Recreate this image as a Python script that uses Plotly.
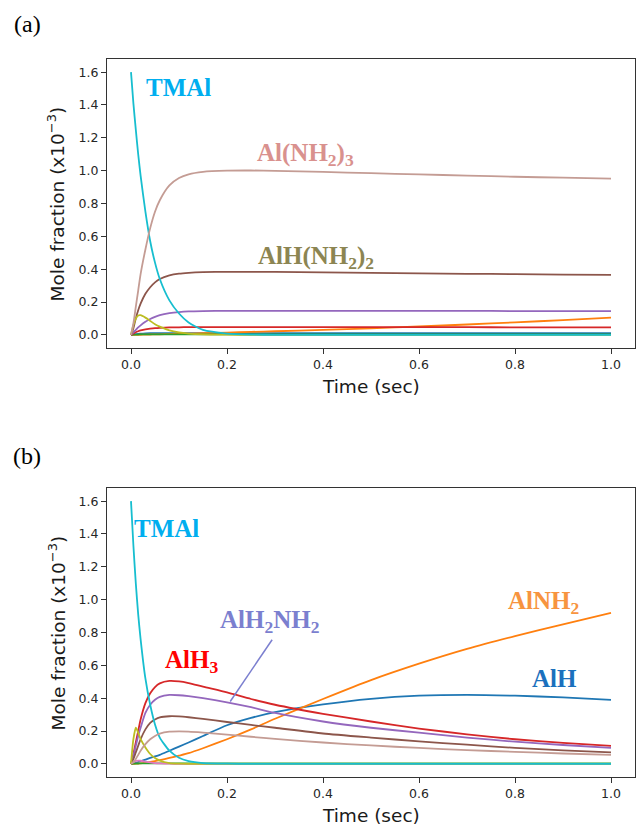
import plotly.graph_objects as go

# ---------------- data ----------------
time = [0, 0.005, 0.01, 0.015, 0.02, 0.03, 0.04, 0.05, 0.06, 0.08, 0.1, 0.12,
        0.15, 0.2, 0.25, 0.3, 0.4, 0.5, 0.6, 0.7, 0.8, 0.9, 1.0]

# panel (a)
a_blue   = [0, 0.002, 0.004, 0.006, 0.007, 0.009, 0.01, 0.01, 0.01, 0.01, 0.01, 0.01,
            0.01, 0.01, 0.01, 0.01, 0.01, 0.01, 0.01, 0.01, 0.01, 0.01, 0.01]
a_orange = [0, 0.0001, 0.0003, 0.0005, 0.0008, 0.0015, 0.0022, 0.003, 0.0035, 0.005, 0.0065, 0.008,
            0.010, 0.014, 0.018, 0.022, 0.030, 0.040, 0.051, 0.063, 0.076, 0.090, 0.105]
a_green  = [0, 0.001, 0.002, 0.002, 0.003, 0.003, 0.003, 0.003, 0.003, 0.003, 0.003, 0.003,
            0.003, 0.003, 0.003, 0.003, 0.003, 0.003, 0.003, 0.003, 0.003, 0.003, 0.003]
a_red    = [0, 0.008, 0.016, 0.022, 0.027, 0.034, 0.038, 0.041, 0.043, 0.045, 0.046, 0.047,
            0.047, 0.047, 0.047, 0.047, 0.047, 0.047, 0.047, 0.047, 0.046, 0.046, 0.046]
a_purple = [0, 0.015, 0.03, 0.045, 0.058, 0.08, 0.097, 0.11, 0.12, 0.132, 0.139, 0.143,
            0.145, 0.146, 0.146, 0.146, 0.146, 0.146, 0.146, 0.146, 0.145, 0.145, 0.145]
a_brown  = [0, 0.04, 0.10, 0.15, 0.19, 0.25, 0.29, 0.32, 0.34, 0.362, 0.373, 0.378,
            0.382, 0.384, 0.384, 0.383, 0.381, 0.378, 0.375, 0.372, 0.370, 0.367, 0.365]
a_olive  = [0, 0.06, 0.10, 0.118, 0.12, 0.105, 0.085, 0.065, 0.05, 0.028, 0.015, 0.008,
            0.003, 0.001, 0, 0, 0, 0, 0, 0, 0, 0, 0]
a_tmal   = [1.6, 1.41, 1.25, 1.10, 0.97, 0.75, 0.57, 0.44, 0.34, 0.21, 0.13, 0.075,
            0.03, 0.008, 0.002, 0, 0, 0, 0, 0, 0, 0, 0]
a_alnh3  = [0, 0.07, 0.17, 0.27, 0.37, 0.52, 0.65, 0.75, 0.82, 0.91, 0.955, 0.978,
            0.993, 1.0, 1.001, 0.999, 0.992, 0.985, 0.977, 0.970, 0.963, 0.957, 0.951]

# panel (b)
b_blue   = [0, 0.003, 0.007, 0.011, 0.016, 0.026, 0.036, 0.045, 0.055, 0.08, 0.105, 0.13,
            0.17, 0.235, 0.28, 0.315, 0.362, 0.396, 0.415, 0.42, 0.415, 0.405, 0.39]
b_orange = [0, 0, 0.001, 0.002, 0.003, 0.007, 0.012, 0.017, 0.023, 0.036, 0.05, 0.065,
            0.095, 0.15, 0.21, 0.275, 0.395, 0.51, 0.61, 0.70, 0.778, 0.85, 0.92]
b_green  = [0, 0.001, 0.002, 0.002, 0.003, 0.003, 0.003, 0.003, 0.003, 0.003, 0.003, 0.003,
            0.003, 0.003, 0.003, 0.003, 0.003, 0.003, 0.003, 0.003, 0.003, 0.003, 0.003]
b_red    = [0, 0.06, 0.13, 0.20, 0.27, 0.37, 0.43, 0.468, 0.49, 0.505, 0.502, 0.492,
            0.47, 0.435, 0.395, 0.36, 0.305, 0.258, 0.215, 0.18, 0.15, 0.128, 0.11]
b_purple = [0, 0.05, 0.11, 0.17, 0.22, 0.31, 0.36, 0.39, 0.408, 0.42, 0.418, 0.412,
            0.40, 0.375, 0.345, 0.31, 0.258, 0.22, 0.19, 0.16, 0.135, 0.115, 0.097]
b_brown  = [0, 0.03, 0.07, 0.11, 0.15, 0.21, 0.25, 0.27, 0.283, 0.29, 0.289, 0.284,
            0.274, 0.255, 0.237, 0.22, 0.185, 0.16, 0.137, 0.117, 0.097, 0.082, 0.07]
b_pink   = [0, 0.01, 0.018, 0.02, 0.019, 0.014, 0.009, 0.005, 0.003, 0.001, 0, 0,
            0, 0, 0, 0, 0, 0, 0, 0, 0, 0, 0]
b_olive  = [0, 0.15, 0.22, 0.19, 0.15, 0.10, 0.06, 0.035, 0.02, 0.005, 0.001, 0,
            0, 0, 0, 0, 0, 0, 0, 0, 0, 0, 0]
b_tmal   = [1.6, 1.33, 1.10, 0.91, 0.76, 0.52, 0.36, 0.24, 0.16, 0.08, 0.037, 0.017,
            0.005, 0.001, 0, 0, 0, 0, 0, 0, 0, 0, 0]
b_alnh3  = [0, 0.01, 0.03, 0.055, 0.08, 0.12, 0.15, 0.17, 0.184, 0.196, 0.198, 0.196,
            0.19, 0.178, 0.165, 0.152, 0.13, 0.112, 0.097, 0.084, 0.073, 0.063, 0.055]

x_ticks = [0, 0.2, 0.4, 0.6, 0.8, 1.0]
x_ticktext = ["0.0", "0.2", "0.4", "0.6", "0.8", "1.0"]
y_ticks = [0, 0.2, 0.4, 0.6, 0.8, 1.0, 1.2, 1.4, 1.6]
y_ticktext = ["0.0", "0.2", "0.4", "0.6", "0.8", "1.0", "1.2", "1.4", "1.6"]

# ---------------- styles ----------------
C = dict(blue="#1f77b4", orange="#ff7f0e", green="#2ca02c", red="#d62728",
         purple="#9467bd", brown="#8c564b", pink="#e377c2", olive="#bcbd22",
         cyan="#17becf", lbrown="#c49c94")

fig = go.Figure()

def add(y, color, xa, ya):
    fig.add_trace(go.Scatter(x=time, y=y, mode="lines", xaxis=xa, yaxis=ya,
                             line=dict(color=color, width=1.8, shape="spline", smoothing=0.6),
                             showlegend=False, hoverinfo="skip"))

for y, c in [(a_blue, "blue"), (a_orange, "orange"), (a_green, "green"), (a_red, "red"),
             (a_purple, "purple"), (a_brown, "brown"), (a_olive, "olive"),
             (a_tmal, "cyan"), (a_alnh3, "lbrown")]:
    add(y, C[c], "x", "y")

for y, c in [(b_blue, "blue"), (b_orange, "orange"), (b_green, "green"), (b_red, "red"),
             (b_purple, "purple"), (b_brown, "brown"), (b_pink, "pink"), (b_olive, "olive"),
             (b_tmal, "cyan"), (b_alnh3, "lbrown")]:
    add(y, C[c], "x2", "y2")

W, H = 638, 826
xdom = [107 / W, 635 / W]
ydom_a = [1 - 348 / H, 1 - 59 / H]
ydom_b = [1 - 777 / H, 1 - 488 / H]

tickfont = dict(family="DejaVu Sans", size=12.5, color="#262626")
axis_common = dict(showline=True, mirror=True, linecolor="#333333", linewidth=1,
                   ticks="outside", ticklen=5, tickcolor="#333333", tickwidth=1,
                   showgrid=False, zeroline=False, tickfont=tickfont)

fig.update_layout(
    width=W, height=H, margin=dict(l=0, r=0, t=0, b=0),
    paper_bgcolor="white", plot_bgcolor="white",
    xaxis=dict(domain=xdom, anchor="y", range=[-0.05, 1.05],
               tickvals=x_ticks, ticktext=x_ticktext, **axis_common),
    yaxis=dict(domain=ydom_a, anchor="x", range=[-0.08, 1.68],
               tickvals=y_ticks, ticktext=y_ticktext, **axis_common),
    xaxis2=dict(domain=xdom, anchor="y2", range=[-0.05, 1.05],
                tickvals=x_ticks, ticktext=x_ticktext, **axis_common),
    yaxis2=dict(domain=ydom_b, anchor="x2", range=[-0.08, 1.68],
                tickvals=y_ticks, ticktext=y_ticktext, **axis_common),
)

ann = []
title_font = dict(family="DejaVu Sans", size=18.5, color="#1a1a1a")
ylab = "Mole fraction (x10<sup>\u22123</sup>)"
for yc, xt in [((59 + 348) / 2, 386), ((488 + 777) / 2, 815)]:
    ann.append(dict(text=ylab, x=57 / W, y=1 - yc / H, xref="paper", yref="paper",
                    textangle=-90, showarrow=False, font=title_font,
                    xanchor="center", yanchor="middle"))
    ann.append(dict(text="Time (sec)", x=371 / W, y=1 - xt / H, xref="paper", yref="paper",
                    showarrow=False, font=title_font, xanchor="center", yanchor="middle"))

panel_font = dict(family="Liberation Serif", size=24, color="black")
ann.append(dict(text="(a)", x=27 / W, y=1 - 24 / H, xref="paper", yref="paper",
                showarrow=False, font=panel_font, xanchor="center", yanchor="middle"))
ann.append(dict(text="(b)", x=27 / W, y=1 - 456 / H, xref="paper", yref="paper",
                showarrow=False, font=panel_font, xanchor="center", yanchor="middle"))

def lab(text, x, y, color, xr, yr):
    ann.append(dict(text="<b>" + text + "</b>", x=x, y=y, xref=xr, yref=yr, showarrow=False,
                    font=dict(family="Liberation Serif", size=25, color=color),
                    xanchor="center", yanchor="middle"))

lab("TMAl", 0.099, 1.504, "#00aeef", "x", "y")
lab("Al(NH<sub>2</sub>)<sub>3</sub>", 0.364, 1.10, "#d9918e", "x", "y")
lab("AlH(NH<sub>2</sub>)<sub>2</sub>", 0.386, 0.47, "#8c8552", "x", "y")

lab("TMAl", 0.0745, 1.435, "#00aeef", "x2", "y2")
lab("AlH<sub>3</sub>", 0.125, 0.625, "#ff0000", "x2", "y2")
lab("AlH<sub>2</sub>NH<sub>2</sub>", 0.289, 0.87, "#7b7fcf", "x2", "y2")
lab("AlNH<sub>2</sub>", 0.86, 0.98, "#f7943f", "x2", "y2")
lab("AlH", 0.883, 0.518, "#1b70bd", "x2", "y2")

fig.update_layout(annotations=ann)
fig.add_shape(type="line", xref="x2", yref="y2", x0=0.294, y0=0.756, x1=0.2067, y1=0.38,
              line=dict(color="#7b7fcf", width=1.5))

fig.write_html("out.html")
